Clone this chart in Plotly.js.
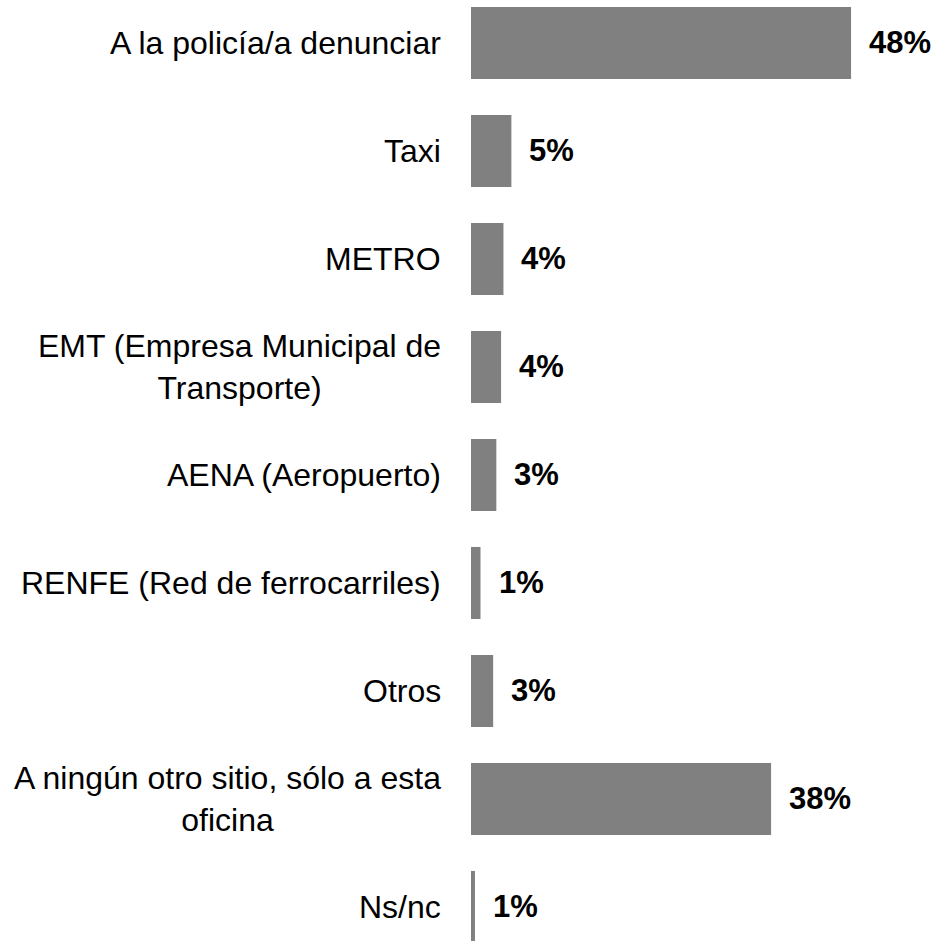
<!DOCTYPE html>
<html>
<head>
<meta charset="utf-8">
<script src="https://cdn.plot.ly/plotly-3.0.1.min.js"></script>
<style>
  html, body { margin: 0; padding: 0; background: #fff; }
  #chart { width: 935px; height: 941px; }
</style>
</head>
<body>
<div id="chart"></div>
<script>
const categories = [
  "A la policía/a denunciar",
  "Taxi",
  "METRO",
  "EMT (Empresa Municipal de<br>Transporte)",
  "AENA (Aeropuerto)",
  "RENFE (Red de ferrocarriles)",
  "Otros",
  "A ningún otro sitio, sólo a esta<br>oficina",
  "Ns/nc"
];
const values = [48, 5.1, 4.1, 3.8, 3.2, 1.2, 2.8, 37.9, 0.5];
const valueLabels = ["48%", "5%", "4%", "4%", "3%", "1%", "3%", "38%", "1%"];

const FONT = "Liberation Sans, Arial, sans-serif";
const idx = categories.map((c, i) => i);

const trace = {
  type: "bar",
  orientation: "h",
  x: values,
  y: idx,
  marker: { color: "#808080" },
  width: 0.667,
  hoverinfo: "skip"
};

const annotations = [];
categories.forEach((c, i) => {
  annotations.push({
    xref: "paper", yref: "y",
    x: 0, y: i,
    xanchor: "right", yanchor: "middle",
    xshift: -28,
    align: "center",
    text: c,
    showarrow: false,
    font: { family: FONT, size: 32, color: "#000" }
  });
  annotations.push({
    xref: "x", yref: "y",
    x: values[i], y: i,
    xanchor: "left", yanchor: "middle",
    xshift: 16,
    text: "<b>" + valueLabels[i] + "</b>",
    showarrow: false,
    font: { family: FONT, size: 31, color: "#000" }
  });
});

const layout = {
  width: 935, height: 941,
  margin: { l: 471, r: 0, t: 0, b: 0, pad: 0 },
  paper_bgcolor: "#fff",
  plot_bgcolor: "#fff",
  showlegend: false,
  xaxis: {
    range: [0, 58.6],
    visible: false,
    fixedrange: true
  },
  yaxis: {
    range: [8.315, -0.398],
    visible: false,
    fixedrange: true
  },
  annotations: annotations
};

Plotly.newPlot("chart", [trace], layout, { displayModeBar: false, staticPlot: true });
</script>
</body>
</html>
